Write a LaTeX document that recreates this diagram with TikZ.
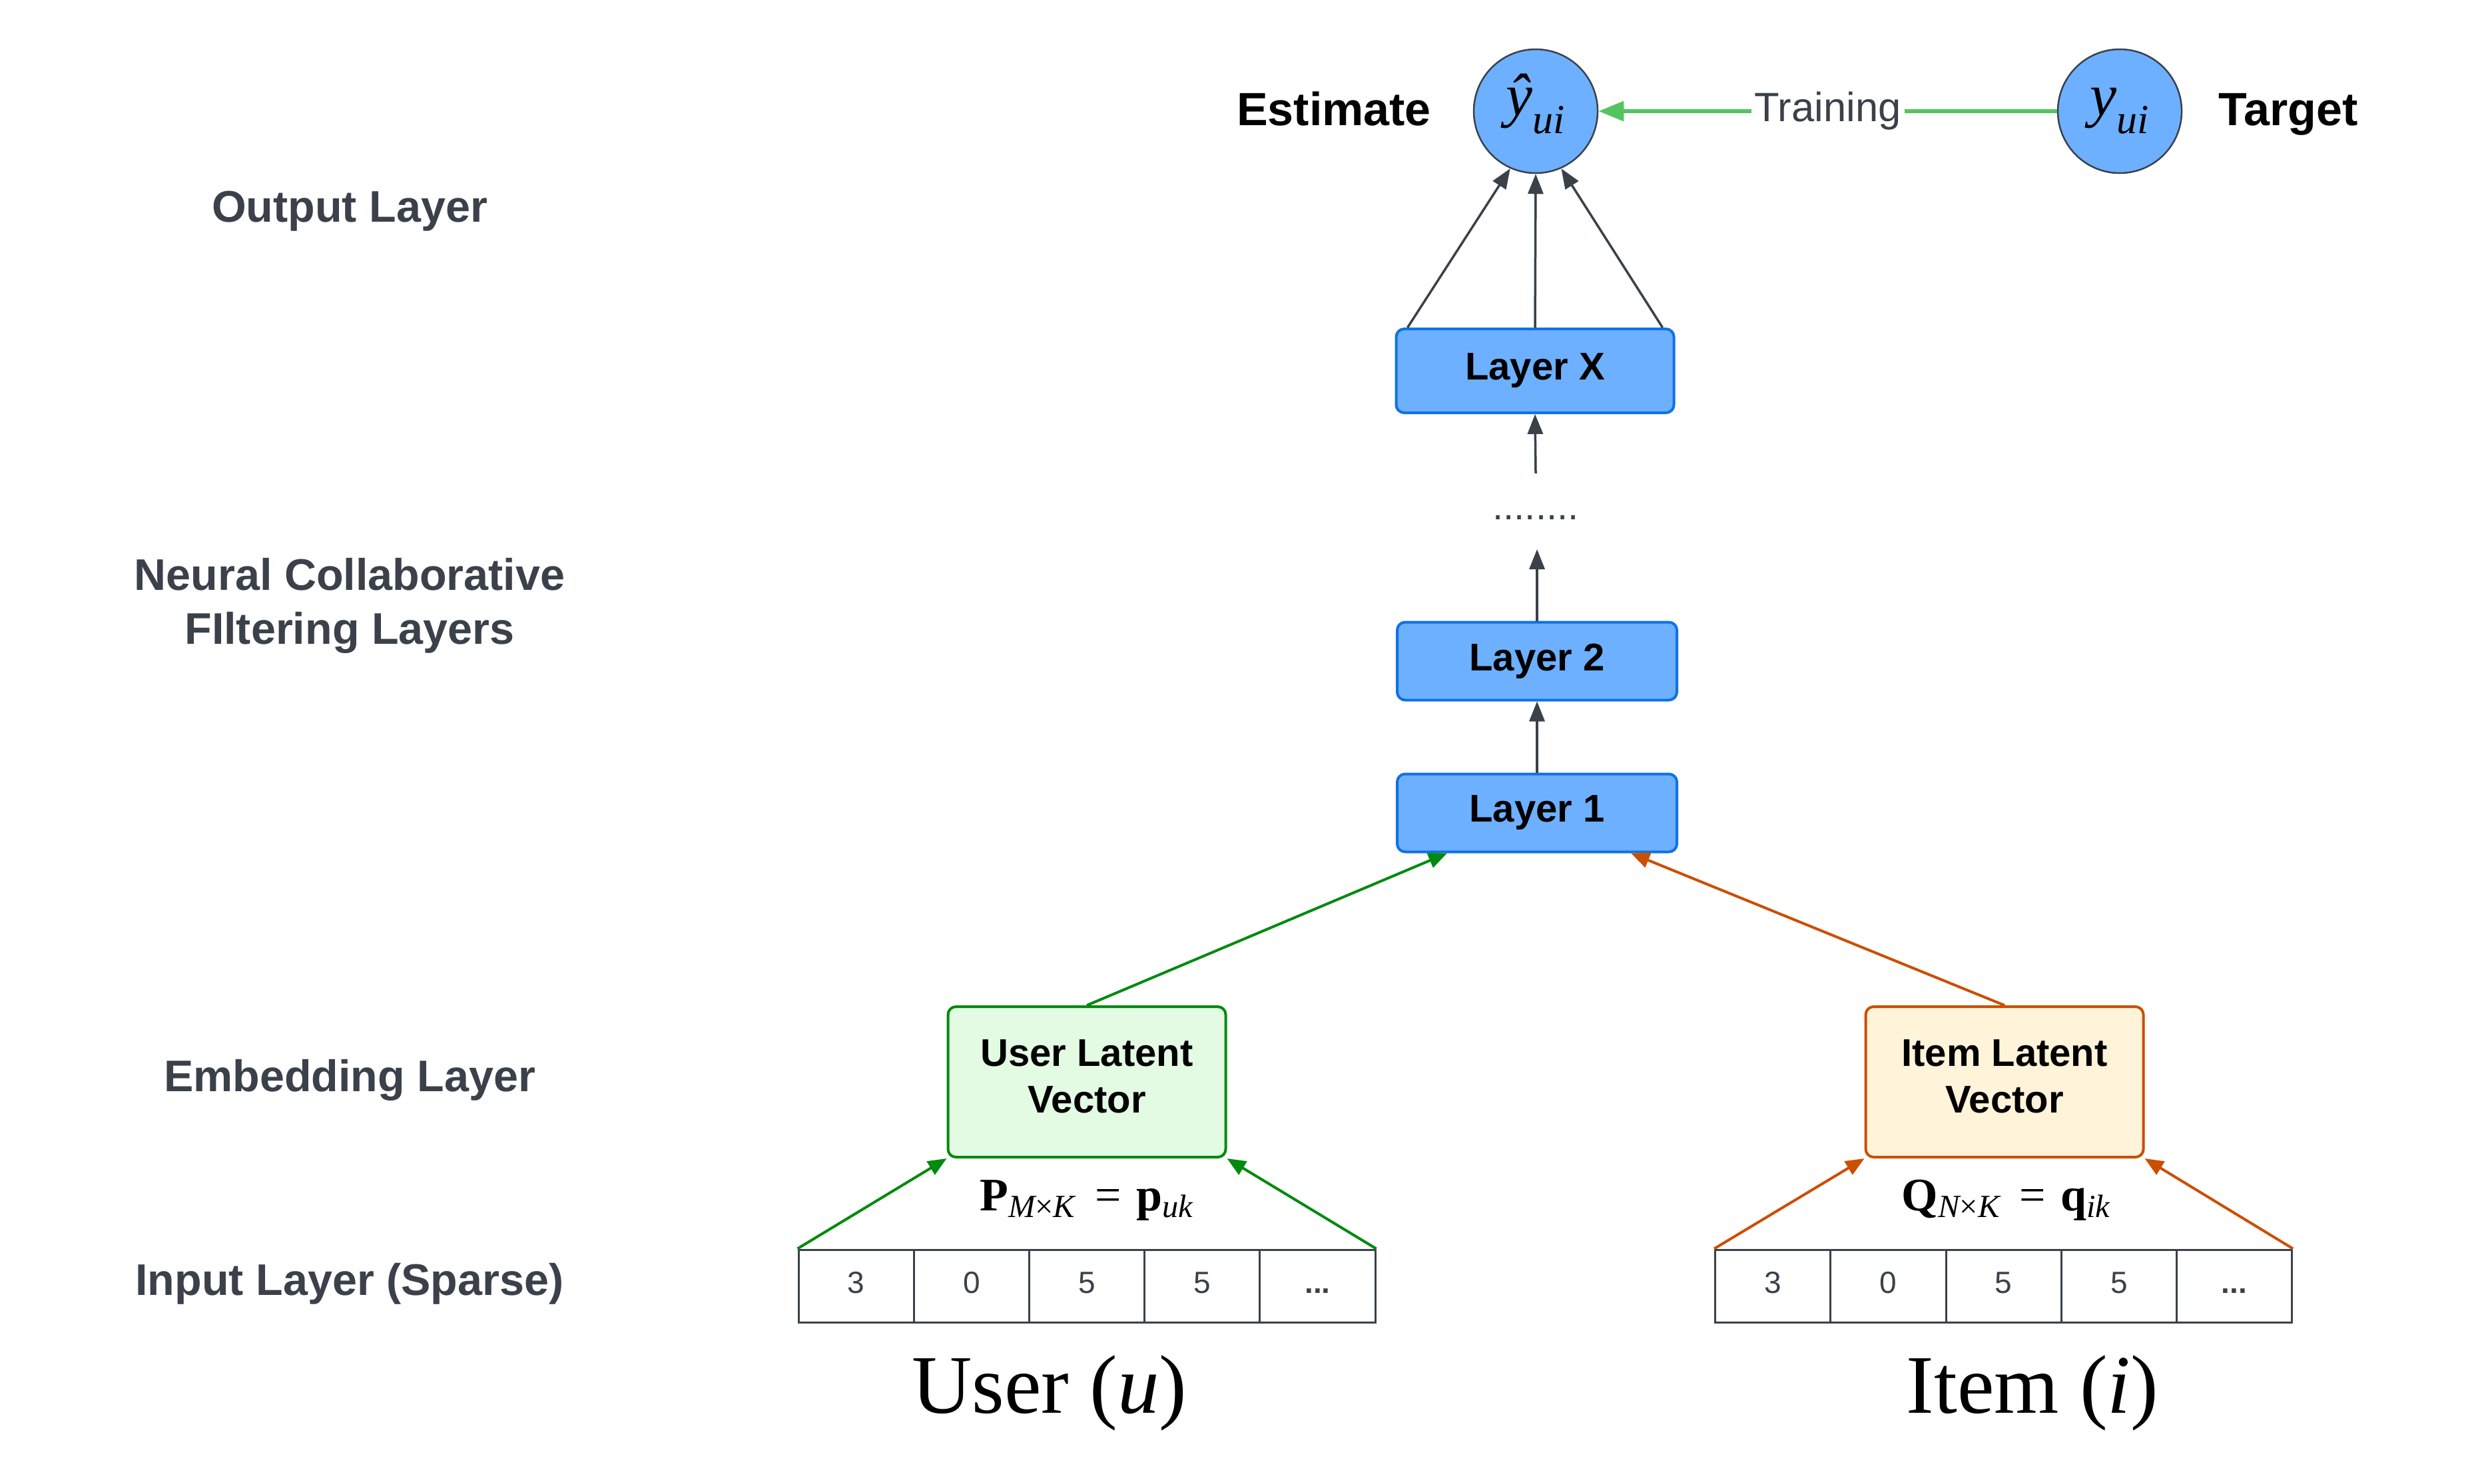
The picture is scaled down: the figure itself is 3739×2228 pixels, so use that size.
\documentclass[tikz,border=0pt]{standalone}
\usepackage{fontspec}
\setmainfont{Liberation Sans}
\newfontfamily\lserif{Liberation Serif}
\usetikzlibrary{arrows.meta,calc}
\definecolor{ink}{HTML}{3A414A}
\definecolor{layerfill}{HTML}{6CB0FF}
\definecolor{layerborder}{HTML}{1071E5}
\definecolor{ufill}{HTML}{E3FAE3}
\definecolor{uborder}{HTML}{008A0E}
\definecolor{ifill}{HTML}{FFF3D9}
\definecolor{iborder}{HTML}{CC4E00}
\definecolor{tgreen}{HTML}{54C45E}
\newcommand{\subx}[1]{\raisebox{-5.4pt}{\fontsize{12.4}{14}\selectfont #1}}
\newcommand{\fsub}[1]{\raisebox{-2pt}{\fontsize{9.7}{11}\selectfont #1}}
\begin{document}
\begin{tikzpicture}[x=0.2pt,y=-0.2pt,
  layerbox/.style={draw=layerborder, fill=layerfill, line width=0.8pt, rounded corners=2.4pt,
    minimum width=84pt, minimum height=23.4pt, inner sep=0pt,
    font=\fontsize{11.6}{13.8}\selectfont\bfseries, text=black},
  latbox/.style={line width=0.8pt, rounded corners=2.4pt, minimum width=83.4pt, minimum height=45.2pt,
    inner sep=0pt},
  lattext/.style={inner sep=0pt, align=center, font=\fontsize{11.6}{14}\selectfont\bfseries, text=black},
  outcirc/.style={circle, draw=ink, fill=layerfill, line width=0.5pt, minimum size=37.2pt, inner sep=0pt,
    font=\lserif\fontsize{18}{20}\selectfont\itshape},
  sidelabel/.style={font=\fontsize{13.3}{16.2}\selectfont\bfseries, text=ink, align=center},
  bigbold/.style={font=\fontsize{14}{16}\selectfont\bfseries, text=black, anchor=base},
  cell/.style={draw=ink, line width=0.6pt, minimum width=34.64pt, minimum height=21.8pt, inner sep=0pt,
    text height=6.6pt, text depth=2.4pt, font=\fontsize{9.2}{11}\selectfont, text=ink},
  formula/.style={anchor=base, font=\lserif\fontsize{14}{16}\selectfont},
  darrow/.style={draw=ink, line width=0.7pt, -{Triangle[length=6pt,width=4.6pt]}},
  garrow/.style={draw=uborder, line width=0.8pt, -{Triangle[length=5.6pt,width=4.6pt]}},
  oarrow/.style={draw=iborder, line width=0.8pt, -{Triangle[length=5.6pt,width=4.6pt]}},
  tarrow/.style={draw=tgreen, line width=1.3pt, -{Triangle[length=7.6pt,width=5.8pt]}},
]
\useasboundingbox (0,0) rectangle (3739,2228);

% side labels
\node[sidelabel, anchor=base] (lout) at (525,333) {Output Layer};
\node[sidelabel] (lncf) at (525,910) {Neural Collaborative\\FIltering Layers};
\node[sidelabel, anchor=base] (lemb) at (525,1639) {Embedding Layer};
\node[sidelabel, anchor=base] (linp) at (525,1945) {Input Layer (Sparse)};

% output circles
\node[outcirc] (est) at (2306,167) {\smash{\^{y}}\vphantom{y}\subx{ui}};
\node[outcirc] (tgt) at (3183,167) {y\subx{ui}};
\node[bigbold] (estlbl) at (2003,188) {Estimate};
\node[bigbold] (tgtlbl) at (3436,188) {Target};
\draw[tarrow] (tgt) -- node[fill=white, inner sep=1pt, anchor=base, yshift=-3pt, text=ink,
  font=\fontsize{12.3}{14}\selectfont] (train) {Training} (est);

% layers
\node[layerbox, minimum width=83.4pt, minimum height=25.2pt] (lx) at (2305,557) {Layer X};
\node[layerbox] (l2) at (2308,993) {Layer 2};
\node[layerbox] (l1) at (2308,1221) {Layer 1};
\node[text=ink, font=\fontsize{11.6}{13}\selectfont, anchor=base] (dots) at (2306,780) {........};
\coordinate (dA) at (2308,825);
\coordinate (dB) at (2306,711);

\draw[darrow] ($(lx.north west)+(19,0)$) -- (est.246);
\draw[darrow] (lx.north) -- (est.south);
\draw[darrow] ($(lx.north east)+(-19,0)$) -- (est.294);
\draw[darrow] (dB) -- (lx.south);
\draw[darrow] (l2.north) -- (dA);
\draw[darrow] (l1.north) -- (l2.south);

% latent vectors
\node[latbox, draw=uborder, fill=ufill] (ulv) at (1632,1625) {};
\node[lattext] (ulvtxt) at (1632,1617) {User Latent\\Vector};
\node[latbox, draw=iborder, fill=ifill] (ilv) at (3010,1625) {};
\node[lattext] (ilvtxt) at (3010,1617) {Item Latent\\Vector};
\draw[garrow] (ulv.north) -- ($(l1.south west)+(77,0)$);
\draw[oarrow] (ilv.north) -- ($(l1.south east)+(-71,0)$);

% formulas
\node[formula] (pf) at (1631,1818)
  {\textbf{P}\fsub{\itshape M\upshape×\itshape K}\hspace{6pt}=\hspace{4.5pt}\textbf{p}\fsub{\itshape uk}};
\node[formula] (qf) at (3012,1818)
  {\textbf{Q}\fsub{\itshape N\upshape×\itshape K}\hspace{6pt}=\hspace{4.5pt}\textbf{q}\fsub{\itshape ik}};

% user cells
\node[cell] (u1) at (1285.6,1931.5) {3};
\node[cell] (u2) at (1458.8,1931.5) {0};
\node[cell] (u3) at (1632.0,1931.5) {5};
\node[cell] (u4) at (1805.2,1931.5) {5};
\node[cell] (u5) at (1978.4,1931.5) {\textbf{...}};
% item cells
\node[cell] (i1) at (2662.2,1931.5) {3};
\node[cell] (i2) at (2835.4,1931.5) {0};
\node[cell] (i3) at (3008.6,1931.5) {5};
\node[cell] (i4) at (3181.8,1931.5) {5};
\node[cell] (i5) at (3355.0,1931.5) {\textbf{...}};

\draw[garrow] (u1.north west) -- (ulv.south west);
\draw[garrow] (u5.north east) -- (ulv.south east);
\draw[oarrow] (i1.north west) -- (ilv.south west);
\draw[oarrow] (i5.north east) -- (ilv.south east);

% captions
\node[font=\lserif\fontsize{25}{30}\selectfont, anchor=base] (ucap) at (1576,2122) {User (\textit{u})};
\node[font=\lserif\fontsize{25}{30}\selectfont, anchor=base] (icap) at (3052,2122) {Item (\textit{i})};
\end{tikzpicture}
\end{document}
